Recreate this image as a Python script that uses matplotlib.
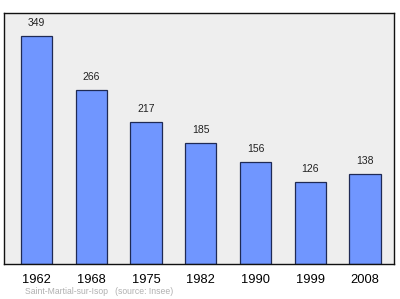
import matplotlib
matplotlib.use('Agg')
import matplotlib.pyplot as plt

years = ['1962', '1968', '1975', '1982', '1990', '1999', '2008']
population = [349, 266, 217, 185, 156, 126, 138]
town = 'Saint-Martial-sur-Isop'
source = '(source: Insee)'

plt.rcParams['font.family'] = ['Liberation Sans', 'DejaVu Sans']

fig = plt.figure(figsize=(4.0, 2.99), dpi=100)
# frame: x 4..394, y 13..264 px
ax = fig.add_axes([4 / 400, 1 - 264 / 299, 390 / 400, 251 / 299])
ax.set_facecolor('#eeeeee')

xs = range(len(years))
ax.bar(xs, population, width=0.57, color='#7096ff', edgecolor='#1f2a55', linewidth=0.9)
for x, v in zip(xs, population):
    ax.text(x, v + 12, str(v), ha='center', va='bottom', fontsize=7.5, color='#222222')

ax.set_xlim(-0.594, 6.53)
ax.set_ylim(0, 384)
ax.set_xticks(list(xs))
ax.set_xticklabels(years, fontsize=9.3)
ax.tick_params(axis='x', length=0, pad=7)
ax.set_yticks([])
for s in ax.spines.values():
    s.set_color('#111111')
    s.set_linewidth(1.0)

fig.text(25 / 400, 1 - 291 / 299, town + '   ' + source, fontsize=6.2,
         color='#b0b0b0', va='center', ha='left')

fig.savefig('out.png', dpi=100, facecolor='white')
